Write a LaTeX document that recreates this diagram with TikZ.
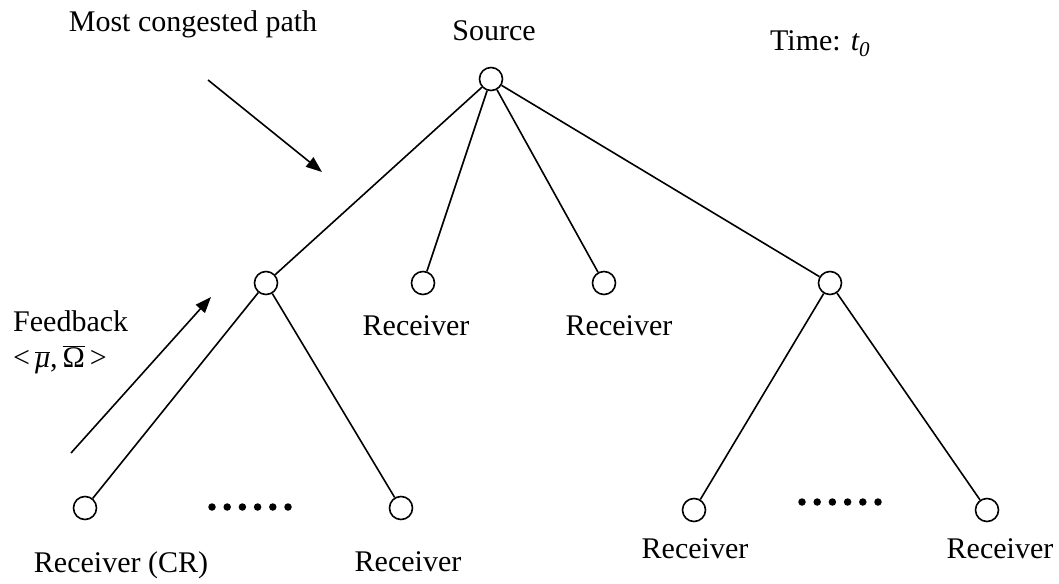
\documentclass[tikz,border=0pt]{standalone}
\usepackage{fontspec}
\setmainfont{Liberation Serif}
\usetikzlibrary{arrows.meta}
\begin{document}
\begin{tikzpicture}[x=1pt,y=-1pt,
  vert/.style={circle,draw,line width=1.6pt,minimum size=23pt,inner sep=0pt,fill=white},
  edge/.style={line width=1.6pt},
  lbl/.style={font=\fontsize{30}{35}\selectfont,inner sep=0pt,anchor=base},
  pointer/.style={line width=1.6pt,-{Triangle[length=16pt,width=12pt]}},
  dotmark/.style={circle,fill=black,minimum size=7.5pt,inner sep=0pt}]
\useasboundingbox (0,0) rectangle (1059,583);

% vertices
\node[vert] (src) at (491,79) {};
\node[vert] (ml)  at (266,283) {};
\node[vert] (r1)  at (423,283) {};
\node[vert] (r2)  at (604,283) {};
\node[vert] (mr)  at (830,283) {};
\node[vert] (l1)  at (85,508) {};
\node[vert] (l2)  at (401,508) {};
\node[vert] (l3)  at (694,510) {};
\node[vert] (l4)  at (987,510) {};

% edges
\draw[edge] (src) -- (ml);
\draw[edge] (src) -- (r1);
\draw[edge] (src) -- (r2);
\draw[edge] (src) -- (mr);
\draw[edge] (ml) -- (l1);
\draw[edge] (ml) -- (l2);
\draw[edge] (mr) -- (l3);
\draw[edge] (mr) -- (l4);

% dots
\foreach \i in {0,...,5} {
  \node[dotmark] (dl\i) at (212+15.2*\i,507) {};
  \node[dotmark] (dr\i) at (802+15.2*\i,502) {};
}

% labels
\node[lbl] (tsrc) at (494,41) {Source};
\node[lbl] (tmost) at (193,32) {Most congested path};
\node[lbl,anchor=base west] (ttime) at (770,51) {Time: \textit{t\textsubscript{0}}};
\node[lbl] (tr1) at (416,335) {Receiver};
\node[lbl] (tr2) at (619,335) {Receiver};
\node[lbl,anchor=base west] (tfb) at (13,331) {Feedback};
\node[lbl,anchor=base west] (tmu) at (13,367) {{<}\,$\overline{\mbox{\itshape μ}}$,\,$\overline{\mbox{Ω}}$\,{>}};
\node[lbl] (tl1) at (121,572) {Receiver (CR)};
\node[lbl] (tl2) at (408,571) {Receiver};
\node[lbl] (tl3) at (695,558) {Receiver};
\node[lbl] (tl4) at (1000,558) {Receiver};

% pointer arrows
\coordinate (c1s) at (208,80);
\coordinate (c1e) at (322,172);
\coordinate (fbs) at (71,453);
\coordinate (fbe) at (211,297);
\draw[pointer] (c1s) -- (c1e);
\draw[pointer] (fbs) -- (fbe);
\end{tikzpicture}
\end{document}
